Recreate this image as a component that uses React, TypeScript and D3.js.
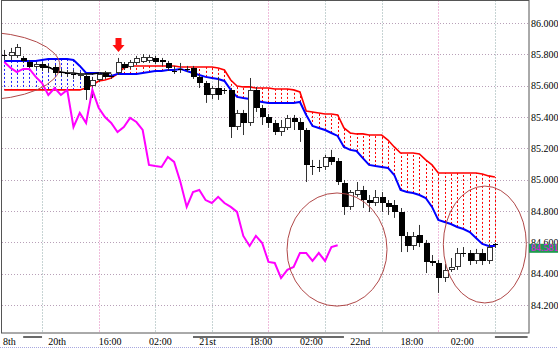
import React from 'react';
import * as d3 from 'd3';

// ---------- DATA ----------
const candleOpen = [
  85.790,85.790,85.790,85.777,85.751,85.719,85.738,85.719,85.719,85.687,
  85.681,85.675,85.662,85.662,85.598,85.636,85.681,85.662,85.681,85.738,
  85.719,85.745,85.751,85.758,85.777,85.764,85.745,85.694,85.700,85.707,
  85.713,85.656,85.617,85.541,85.585,85.566,85.573,85.336,85.426,85.362,
  85.573,85.458,85.400,85.362,85.304,85.330,85.394,85.368,85.317,85.087,
  85.081,85.081,85.145,85.119,84.979,84.826,84.902,84.934,84.870,84.851,
  84.890,84.851,84.838,84.794,84.641,84.577,84.647,84.596,84.481,84.468,
  84.372,84.424,84.443,84.532,84.532,84.481,84.532,84.481,84.590,
];
const candleClose = [
  85.796,85.815,85.847,85.758,85.719,85.738,85.713,85.713,85.681,85.681,
  85.675,85.675,85.675,85.573,85.636,85.675,85.656,85.662,85.751,85.713,
  85.751,85.777,85.783,85.783,85.751,85.751,85.713,85.687,85.707,85.707,
  85.656,85.617,85.541,85.585,85.541,85.573,85.336,85.426,85.362,85.573,
  85.458,85.400,85.362,85.304,85.336,85.394,85.368,85.317,85.094,85.087,
  85.081,85.145,85.113,84.985,84.826,84.921,84.934,84.870,84.851,84.890,
  84.851,84.826,84.794,84.641,84.577,84.641,84.596,84.475,84.468,84.372,
  84.424,84.443,84.532,84.532,84.481,84.532,84.481,84.570,84.581,
];
const candleHigh = [
  85.828,85.841,85.866,85.790,85.764,85.751,85.751,85.738,85.732,85.707,
  85.700,85.700,85.687,85.675,85.656,85.687,85.694,85.675,85.777,85.751,
  85.764,85.790,85.802,85.796,85.790,85.777,85.758,85.726,85.745,85.726,
  85.726,85.668,85.630,85.598,85.656,85.585,85.585,85.445,85.445,85.649,
  85.592,85.477,85.419,85.381,85.381,85.413,85.413,85.394,85.330,85.126,
  85.126,85.158,85.190,85.138,84.998,84.934,84.985,84.960,84.902,84.934,
  84.921,84.870,84.870,84.819,84.666,84.666,84.711,84.615,84.519,84.487,
  84.462,84.500,84.564,84.570,84.551,84.558,84.558,84.590,84.596,
];
const candleLow = [
  85.764,85.764,85.777,85.745,85.707,85.707,85.694,85.687,85.668,85.662,
  85.656,85.643,85.649,85.509,85.521,85.624,85.643,85.643,85.668,85.700,
  85.707,85.732,85.745,85.745,85.738,85.726,85.694,85.675,85.681,85.687,
  85.643,85.585,85.490,85.515,85.509,85.547,85.266,85.317,85.285,85.343,
  85.432,85.349,85.330,85.285,85.279,85.317,85.317,85.241,84.985,85.030,
  85.049,85.062,85.094,84.966,84.775,84.807,84.890,84.819,84.794,84.832,
  84.794,84.775,84.756,84.538,84.538,84.551,84.570,84.404,84.449,84.277,
  84.347,84.411,84.424,84.507,84.455,84.462,84.455,84.462,84.564,
];
const spanA = [
  85.758,85.758,85.758,85.758,85.758,85.758,85.764,85.770,85.770,85.770,
  85.770,85.764,85.726,85.681,85.681,85.681,85.668,85.662,85.675,85.675,
  85.675,85.675,85.681,85.687,85.694,85.694,85.700,85.700,85.707,85.694,
  85.681,85.668,85.656,85.649,85.643,85.630,85.573,85.528,85.521,85.515,
  85.502,85.496,85.490,85.490,85.490,85.490,85.490,85.496,85.413,85.343,
  85.330,85.317,85.298,85.279,85.209,85.190,85.183,85.138,85.094,85.087,
  85.081,85.075,85.030,84.934,84.921,84.915,84.902,84.883,84.826,84.743,
  84.730,84.717,84.698,84.685,84.666,84.628,84.590,84.577,84.577,
];
const spanB = [
  85.573,85.573,85.573,85.573,85.573,85.573,85.573,85.573,85.573,85.573,
  85.573,85.573,85.573,85.585,85.604,85.630,85.636,85.649,85.675,85.713,
  85.726,85.726,85.726,85.726,85.726,85.726,85.726,85.726,85.719,85.719,
  85.719,85.719,85.719,85.719,85.713,85.700,85.636,85.598,85.592,85.592,
  85.585,85.585,85.585,85.579,85.579,85.579,85.573,85.560,85.438,85.432,
  85.426,85.419,85.419,85.413,85.330,85.298,85.292,85.292,85.285,85.285,
  85.285,85.253,85.209,85.170,85.170,85.170,85.164,85.126,85.094,85.043,
  85.043,85.043,85.043,85.043,85.043,85.043,85.036,85.024,85.017,
];
const baseLineStart = 6;
const baseLine = [85.732,85.719,85.700,85.687,85.681,85.681,85.675,85.675,85.675,85.681,85.681,85.681];
const laggingShift = 25;

const priceTicks = [84.2, 84.4, 84.6, 84.8, 85.0, 85.2, 85.4, 85.6, 85.8, 86.0];
const lastPrice = 84.581;

const xLabels = ['8th', '20th', '16:00', '02:00', '21st', '18:00', '02:00', '22nd', '18:00', '02:00'];
const xLabelAt = [-0.2, 7, 15, 23, 31, 39, 47, 55, 63, 71];
const gridAt = [6, 15, 24, 33, 42, 51, 60, 69, 78];
const dayGridAt = [15, 42, 69];
const sessionBars = [[3, 6], [30, 54], [78, 83.2]];

// annotations: [centre index, centre price, radius in bars, radius in price]
const ellipses = [
  [-3.85, 85.726, 12.7, 0.217],
  [52.9, 84.554, 7.95, 0.361],
  [76.4, 84.586, 6.6, 0.373],
];
const arrowAt = 18;
const arrowTop = 85.904;
const arrowTip = 85.815;

// ---------- CHART ----------
const W = 558;
const H = 349;
const PL = 2, PR = 529, PT = 0.5, PB = 333;

const xs = d3.scaleLinear().domain([0, 78]).range([4.3, 494.9]);
const ys = d3.scaleLinear().domain([84.2, 86.0]).range([305, 23]);
const fmt = d3.format('.3f');
const FONT = '"Liberation Serif", "Times New Roman", serif';

export default function App() {
  const idx = d3.range(candleOpen.length);
  const line = d3.line<number>().x((_, i) => xs(i)).y((v) => ys(v));
  const baseL = d3.line<number>().x((_, i) => xs(i + baseLineStart)).y((v) => ys(v));
  const lagging = d3.range(0, candleClose.length - laggingShift).map((i) => candleClose[i + laggingShift]);
  const step = xs(1) - xs(0);

  const ax = Math.round(xs(arrowAt)) + 0.5;
  const aTop = ys(arrowTop);
  const aTip = ys(arrowTip);

  return (
    <svg width={W} height={H} style={{ position: 'absolute', left: 0, top: 0, background: '#fff' }}>
      <defs>
        <clipPath id="plot">
          <rect x={PL} y={PT} width={PR - PL} height={PB - PT} />
        </clipPath>
      </defs>
      <rect x={0} y={0} width={W} height={H} fill="#fff" />
      {/* grid */}
      {priceTicks.map((t) => (
        <line key={'h' + t} x1={PL} x2={PR} y1={Math.round(ys(t)) + 0.5} y2={Math.round(ys(t)) + 0.5}
          stroke="#b8a0b8" strokeDasharray="1,2" />
      ))}
      {gridAt.map((g) => (
        <line key={'v' + g} x1={Math.round(xs(g)) + 0.5} x2={Math.round(xs(g)) + 0.5} y1={PT} y2={PB}
          stroke={dayGridAt.includes(g) ? '#e07ab8' : '#8fa8a8'} strokeDasharray="1,2" />
      ))}
      <g clipPath="url(#plot)">
        {/* cloud hatch */}
        {idx.map((i) => {
          const a = spanA[i], b = spanB[i];
          const xx = Math.round(xs(i)) + 0.5;
          return (
            <line key={'c' + i} x1={xx} x2={xx} y1={ys(a)} y2={ys(b)}
              stroke={a > b ? '#2020ff' : '#ff0000'} strokeDasharray="2,2" strokeWidth={1} />
          );
        })}
        <path d={line(spanB) || ''} fill="none" stroke="#ff0000" strokeWidth={1.6} />
        <path d={line(spanA) || ''} fill="none" stroke="#0000ff" strokeWidth={2} />
        <path d={baseL(baseLine) || ''} fill="none" stroke="#000" strokeWidth={1.5} />
        {/* candles */}
        {idx.map((i) => {
          const o = candleOpen[i], c = candleClose[i];
          const cx = Math.round(xs(i));
          const yo = ys(o), yc = ys(c);
          const top = Math.round(Math.min(yo, yc));
          const bot = Math.round(Math.max(yo, yc));
          const h = bot - top;
          const up = c > o;
          return (
            <g key={'k' + i}>
              <line x1={cx + 0.5} x2={cx + 0.5} y1={ys(candleHigh[i])} y2={ys(candleLow[i])} stroke="#333" strokeWidth={1} />
              {h < 2 ? (
                <rect x={cx - 2} y={top} width={5} height={Math.max(1, h)} fill="#000" />
              ) : up ? (
                <rect x={cx - 1.5} y={top + 0.5} width={5} height={h - 1} fill="#fff" stroke="#333" strokeWidth={1} />
              ) : (
                <rect x={cx - 2} y={top} width={6} height={h} fill="#000" />
              )}
            </g>
          );
        })}
        {/* lagging span */}
        <path d={line(lagging) || ''} fill="none" stroke="#ff00ff" strokeWidth={2} />
        {/* annotation ellipses */}
        {ellipses.map((e, k) => (
          <ellipse key={'e' + k} cx={xs(e[0])} cy={ys(e[1])} rx={step * e[2]} ry={ys(e[1] - e[3]) - ys(e[1])}
            fill="none" stroke="#b04848" strokeWidth={1} />
        ))}
        {/* arrow */}
        <path
          d={`M${ax - 3},${aTop} L${ax + 3},${aTop} L${ax + 3},${aTop + 7} L${ax + 6},${aTop + 7} L${ax},${aTip} L${ax - 6},${aTop + 7} L${ax - 3},${aTop + 7} Z`}
          fill="#ff1010" />
      </g>
      {/* frame */}
      <rect x={PL - 0.5} y={PT} width={PR - PL + 0.5} height={PB - PT} fill="none" stroke="#555" strokeWidth={1} />
      {/* price labels */}
      {priceTicks.map((t) => (
        <text key={'t' + t} x={531} y={ys(t) + 3.5} fontFamily={FONT} fontSize={10} fill="#000">{fmt(t)}</text>
      ))}
      <rect x={PR} y={ys(lastPrice) - 1.5} width={W - PR} height={9} fill="#1f9a4f" />
      <text x={531} y={ys(lastPrice) + 6} fontFamily={FONT} fontSize={10} fill="#ff00ff">{fmt(lastPrice)}</text>
      {/* session bars */}
      {sessionBars.map((b, k) => (
        <rect key={'s' + k} x={xs(b[0])} y={336} width={Math.min(PR, xs(b[1])) - xs(b[0])} height={2} fill="#6a6a6a" />
      ))}
      {/* time labels */}
      {xLabels.map((l, k) => (
        <text key={'x' + k} x={xs(xLabelAt[k])} y={345} fontFamily={FONT} fontSize={10} fill="#000">{l}</text>
      ))}
      <line x1={0} x2={W} y1={347.5} y2={347.5} stroke="#a8a8e0" strokeDasharray="1,1" />
    </svg>
  );
}
